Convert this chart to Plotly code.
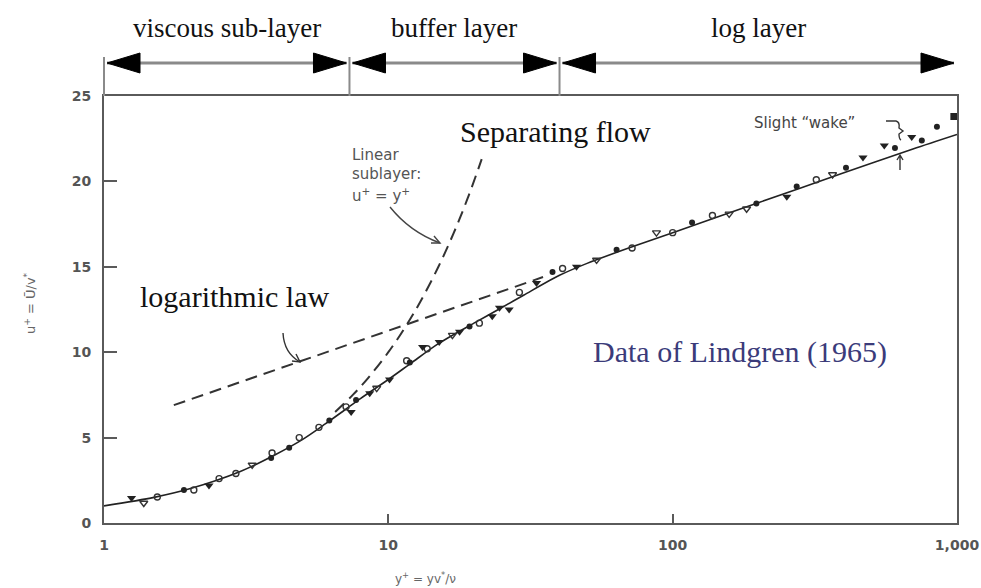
import numpy as np
import plotly.graph_objects as go

# ---------------- data ----------------
# Lindgren (1965) measurements, split by symbol
open_circle_x = [1.54, 2.07, 2.54, 2.91, 3.9, 4.86, 5.7, 7.1, 11.6, 13.7, 20.9, 28.9, 41, 72, 100, 138, 320]
open_circle_u = [1.52, 1.93, 2.6, 2.9, 4.1, 5.0, 5.6, 6.8, 9.5, 10.2, 11.7, 13.5, 14.9, 16.1, 17.0, 18.0, 20.1]

open_tri_x = [1.38, 3.32, 9.1, 16.8, 54, 87.7, 158, 182, 365]
open_tri_u = [1.17, 3.4, 7.9, 11.0, 15.4, 17.0, 18.1, 18.4, 20.4]

filled_tri_x = [1.25, 2.34, 7.4, 8.6, 10.1, 13.2, 15.1, 17.8, 23.2, 24.6, 26.6, 33.2, 45.9, 252, 467, 555, 693]
filled_tri_u = [1.46, 2.2, 6.5, 7.6, 8.4, 10.3, 10.6, 11.2, 12.1, 12.6, 12.5, 14.05, 15.0, 19.1, 21.4, 22.1, 22.6]

filled_circle_x = [1.91, 3.87, 4.48, 6.2, 7.7, 11.9, 19.3, 37.8, 63.5, 117, 197, 273, 407, 605, 752, 850]
filled_circle_u = [1.93, 3.8, 4.4, 6.0, 7.2, 9.4, 11.5, 14.7, 16.0, 17.6, 18.7, 19.7, 20.8, 21.95, 22.4, 23.2]

filled_square_x = [975]
filled_square_u = [23.8]

# solid curve through the data
fit_x = [1, 1.5, 2, 3, 4, 5, 6, 7, 8, 10, 12, 15, 20, 25, 30, 40, 50, 70, 100, 200, 400, 700, 1000]
fit_u = [1.0, 1.5, 2.0, 3.0, 4.0, 4.9, 5.8, 6.6, 7.3, 8.4, 9.35, 10.5, 11.7, 12.6, 13.35, 14.5, 15.2, 16.1, 17.0, 18.75, 20.5, 21.9, 22.75]

# dashed linear sublayer u+ = y+
lin_x = [6.5, 7.5, 8.5, 10, 11.5, 13, 15, 17, 19, 21.3]
lin_u = [6.5, 7.5, 8.5, 10, 11.5, 13, 15, 17, 19, 21.3]

# dashed logarithmic law
log_x = [1.76, 35]
log_u = [6.9, 14.4]

# layer regions across the top
region_bounds = [1, 7.3, 40, 1000]
region_labels = ["viscous sub-layer", "buffer layer", "log layer"]

x_tickvals = [1, 10, 100, 1000]
x_ticktext = ["1", "10", "100", "1,000"]
y_tickvals = [0, 5, 10, 15, 20, 25]

# ---------------- layout geometry ----------------
W, H = 981, 588
PL, PR, PT, PB = 104, 957, 96, 523
YMAX = 25.0
XDEC = 3.0


def pxx(px):
    return (px - PL) / (PR - PL)


def pxy(py):
    return (PB - py) / (PB - PT)


def xv2paper(v):
    return np.log10(v) / XDEC


GRAY = "#5a5a5a"
SERIF = "Liberation Serif, Times New Roman, serif"
SANS = "DejaVu Sans, Verdana, sans-serif"

fig = go.Figure()

fig.add_trace(go.Scatter(x=fit_x, y=fit_u, mode="lines",
                         line=dict(color="#222", width=1.6, shape="spline", smoothing=0.8),
                         showlegend=False, hoverinfo="skip"))
fig.add_trace(go.Scatter(x=lin_x, y=lin_u, mode="lines",
                         line=dict(color="#333", width=2, dash="12px,7px", shape="spline"),
                         showlegend=False, hoverinfo="skip"))
fig.add_trace(go.Scatter(x=log_x, y=log_u, mode="lines",
                         line=dict(color="#333", width=2, dash="12px,7px"),
                         showlegend=False, hoverinfo="skip"))

fig.add_trace(go.Scatter(x=open_circle_x, y=open_circle_u, mode="markers",
                         marker=dict(symbol="circle-open", size=6, color="#333", line=dict(width=1.4)), showlegend=False))
fig.add_trace(go.Scatter(x=open_tri_x, y=open_tri_u, mode="markers",
                         marker=dict(symbol="triangle-down-open", size=7, color="#333", line=dict(width=1.4)), showlegend=False))
fig.add_trace(go.Scatter(x=filled_tri_x, y=filled_tri_u, mode="markers",
                         marker=dict(symbol="triangle-down", size=8, color="#222"), showlegend=False))
fig.add_trace(go.Scatter(x=filled_circle_x, y=filled_circle_u, mode="markers",
                         marker=dict(symbol="circle", size=6, color="#222"), showlegend=False))
fig.add_trace(go.Scatter(x=filled_square_x, y=filled_square_u, mode="markers",
                         marker=dict(symbol="square", size=7, color="#222"), showlegend=False, cliponaxis=False))

shapes = []
annotations = []

# ---- top region arrows ----
arrow_py = 63
ay = pxy(arrow_py)
head_len = 33 / (PR - PL)
head_half = 10 / (PB - PT)
gap = 3 / (PR - PL)
for i, lab in enumerate(region_labels):
    a = xv2paper(region_bounds[i]) + gap
    b = xv2paper(region_bounds[i + 1]) - gap
    shapes.append(dict(type="line", xref="paper", yref="paper", x0=a, x1=b, y0=ay, y1=ay,
                       line=dict(color="#8a8a8a", width=3)))
    shapes.append(dict(type="path", xref="paper", yref="paper",
                       path=f"M{a},{ay} L{a + head_len},{ay + head_half} L{a + head_len},{ay - head_half} Z",
                       fillcolor="black", line=dict(color="black", width=1)))
    shapes.append(dict(type="path", xref="paper", yref="paper",
                       path=f"M{b},{ay} L{b - head_len},{ay + head_half} L{b - head_len},{ay - head_half} Z",
                       fillcolor="black", line=dict(color="black", width=1)))
    cx = (xv2paper(region_bounds[i]) + xv2paper(region_bounds[i + 1])) / 2
    annotations.append(dict(xref="paper", yref="paper", x=cx, y=pxy(28), text=lab, showarrow=False,
                            font=dict(family=SERIF, size=27, color="#111"), xanchor="center", yanchor="middle"))
for bnd in region_bounds[:-1]:
    xp = xv2paper(bnd)
    shapes.append(dict(type="line", xref="paper", yref="paper", x0=xp, x1=xp, y0=1.0, y1=pxy(57),
                       line=dict(color="#8a8a8a", width=2)))


# ---- curved pointer arrows ----
def P(px, py):
    return f"{pxx(px)},{pxy(py)}"


# logarithmic law pointer
shapes.append(dict(type="path", xref="paper", yref="paper",
                   path=f"M{P(283, 333)} Q{P(284, 353)} {P(300, 362)}", line=dict(color="#333", width=1.4)))
shapes.append(dict(type="path", xref="paper", yref="paper",
                   path=f"M{P(292, 361)} L{P(300, 362)} L{P(296, 354)}", line=dict(color="#333", width=1.4)))
# linear sublayer pointer
shapes.append(dict(type="path", xref="paper", yref="paper",
                   path=f"M{P(390, 207)} Q{P(410, 232)} {P(440, 243)}", line=dict(color="#444", width=1.4)))
shapes.append(dict(type="path", xref="paper", yref="paper",
                   path=f"M{P(431, 243)} L{P(440, 243)} L{P(434, 236)}", line=dict(color="#444", width=1.4)))
# wake bracket
shapes.append(dict(type="path", xref="paper", yref="paper",
                   path=f"M{P(886, 121)} L{P(896, 121)} Q{P(900, 122)} {P(899, 128)} L{P(903, 131)} L{P(899, 134)} Q{P(899, 139)} {P(901, 140)}",
                   line=dict(color="#333", width=1.4)))
shapes.append(dict(type="path", xref="paper", yref="paper",
                   path=f"M{P(900, 170)} L{P(900, 155)} M{P(897, 160)} L{P(900, 155)} L{P(903, 160)}",
                   line=dict(color="#333", width=1.4)))

# ---- text annotations ----
annotations += [
    dict(xref="paper", yref="paper", x=pxx(555), y=pxy(131), text="Separating flow", showarrow=False,
         font=dict(family=SERIF, size=30, color="#111"), xanchor="center", yanchor="middle"),
    dict(xref="paper", yref="paper", x=pxx(138), y=pxy(296), text="logarithmic law", showarrow=False,
         font=dict(family=SERIF, size=30, color="#111"), xanchor="left", yanchor="middle"),
    dict(xref="paper", yref="paper", x=pxx(591), y=pxy(352), text="Data of Lindgren (1965)", showarrow=False,
         font=dict(family=SERIF, size=30, color="#3b3b7a"), xanchor="left", yanchor="middle"),
    dict(xref="paper", yref="paper", x=pxx(350), y=pxy(155), text="Linear", showarrow=False,
         font=dict(family=SANS, size=15, color="#555"), xanchor="left", yanchor="middle"),
    dict(xref="paper", yref="paper", x=pxx(350), y=pxy(174), text="sublayer:", showarrow=False,
         font=dict(family=SANS, size=15, color="#555"), xanchor="left", yanchor="middle"),
    dict(xref="paper", yref="paper", x=pxx(350), y=pxy(195), text="u<sup>+</sup> = y<sup>+</sup>", showarrow=False,
         font=dict(family=SANS, size=15, color="#555"), xanchor="left", yanchor="middle"),
    dict(xref="paper", yref="paper", x=pxx(752), y=pxy(123), text="Slight \u201cwake\u201d", showarrow=False,
         font=dict(family=SANS, size=15, color="#444"), xanchor="left", yanchor="middle"),
    dict(xref="paper", yref="paper", x=pxx(30), y=pxy(303), text="u<sup>+</sup> = Ū/v<sup>*</sup>", showarrow=False,
         textangle=-90, font=dict(family=SANS, size=13, color="#666"), xanchor="center", yanchor="middle"),
    dict(xref="paper", yref="paper", x=pxx(425), y=pxy(578), text="y<sup>+</sup> = yv<sup>*</sup>/ν", showarrow=False,
         font=dict(family=SANS, size=12, color="#666"), xanchor="center", yanchor="middle"),
]

fig.update_layout(
    width=W, height=H,
    margin=dict(l=PL, r=W - PR, t=PT, b=H - PB, pad=0, autoexpand=False),
    paper_bgcolor="white", plot_bgcolor="white",
    showlegend=False,
    shapes=shapes, annotations=annotations,
    xaxis=dict(type="log", range=[0, XDEC], tickvals=x_tickvals, ticktext=x_ticktext,
               ticks="inside", ticklen=9, tickwidth=2, tickcolor=GRAY, automargin=False,
               showline=True, linecolor=GRAY, linewidth=2, mirror=True,
               showgrid=False, zeroline=False, ticklabelstandoff=8,
               tickfont=dict(family=SANS, size=14, color="#555", weight="bold")),
    yaxis=dict(range=[0, YMAX], tickvals=y_tickvals,
               ticks="inside", ticklen=13, tickwidth=2, tickcolor=GRAY, automargin=False,
               showline=True, linecolor=GRAY, linewidth=2, mirror=True,
               showgrid=False, zeroline=False, ticklabelstandoff=8,
               tickfont=dict(family=SANS, size=14, color="#555", weight="bold")),
)

fig.write_html("out.html")
